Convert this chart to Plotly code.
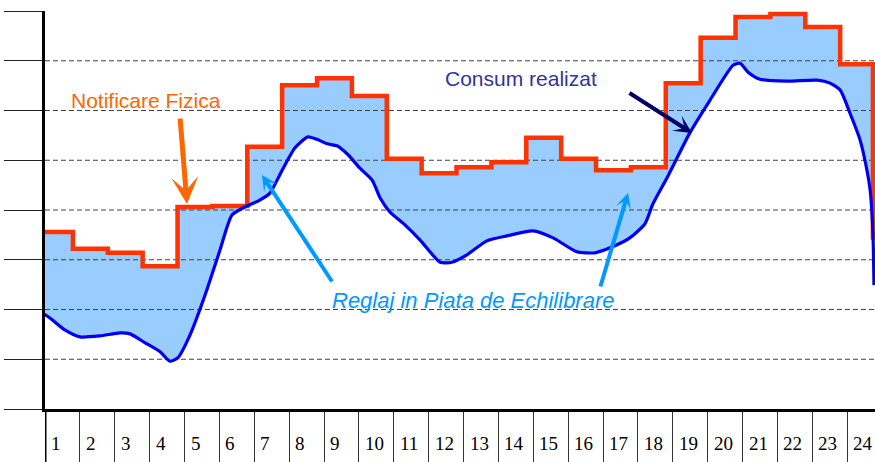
import plotly.graph_objects as go

# ---------------- data ----------------
hours = list(range(1, 25))
tick_labels = [str(h) for h in hours]

# Notificare Fizica (step line), one value per hour
notificare_fizica = [356, 322, 314, 287, 406, 408, 527, 651, 665, 629, 503, 474,
                     486, 496, 545, 503, 480, 486, 655, 746, 788, 794, 768, 693]
notificare_end = 340

# Consum realizat (smooth curve), sampled along the hour axis
consum_ora = [0.30, 0.64, 1.07, 1.50, 2.08, 2.65, 2.94, 3.37, 3.80, 4.08, 4.31, 4.66,
              5.09, 5.52, 5.86, 6.23, 6.66, 6.95, 7.30, 7.67, 8.04, 8.33, 8.59, 8.87,
              9.19, 9.53, 9.88, 10.11, 10.39, 10.82, 11.25, 11.83, 12.17, 12.60, 13.17,
              13.75, 14.49, 15.07, 15.75, 16.27, 16.70, 17.27, 17.70, 17.93, 18.36,
              18.99, 19.57, 20.23, 20.43, 20.66, 21.00, 21.78, 22.64, 23.01, 23.30,
              23.58, 23.87, 24.04, 24.16, 24.24, 24.27]
consum_val = [199, 183, 159, 145, 147, 153, 151, 133, 115, 96, 103, 149,
              229, 320, 390, 406, 420, 434, 480, 525, 547, 541, 533, 529,
              511, 484, 460, 424, 396, 370, 340, 295, 295, 310, 338,
              348, 358, 344, 316, 314, 324, 344, 372, 412, 468,
              555, 621, 691, 695, 677, 663, 659, 661, 655, 641,
              595, 541, 490, 440, 354, 249]

grid_levels = [100, 200, 300, 400, 500, 600, 700]
y_ticks = [0, 100, 200, 300, 400, 500, 600, 700, 800]
hour_edges = [h - 0.5 for h in hours] + [24.5]

# ---------------- style ----------------
STEP_SHIFT = -0.7
RED = "#FF3300"
BLUE = "#0000F0"
FILL = "#99CCFF"
ORANGE = "#FF6600"
NAVY = "#000066"
NAVY_TXT = "#333399"
LIGHT = "#0099FF"
SANS = "Liberation Sans, Arial, sans-serif"
SERIF = "Liberation Serif, Times New Roman, serif"

W, H = 875, 462
ML, MR, MT, MB = 45, 0, 11, 53
PW, PH = W - ML - MR, H - MT - MB


def px(xp, yp):
    return (xp - ML) / PW, (H - MB - yp) / PH


step_x = [h + STEP_SHIFT for h in hours] + [24.24]
step_y = notificare_fizica + [notificare_end]

fig = go.Figure()
# fill boundaries
fig.add_trace(go.Scatter(x=step_x, y=step_y, mode="lines", line=dict(shape="hv", width=0, color="rgba(0,0,0,0)"),
                         hoverinfo="skip", showlegend=False))
fig.add_trace(go.Scatter(x=consum_ora, y=consum_val, mode="lines",
                         line=dict(shape="spline", smoothing=0.6, width=0, color="rgba(0,0,0,0)"),
                         fill="tonexty", fillcolor=FILL, hoverinfo="skip", showlegend=False))
# dashed grid lines (above the fill)
gx, gy = [], []
for g in grid_levels:
    gx += [0.5, 24.5, None]
    gy += [g, g, None]
fig.add_trace(go.Scatter(x=gx, y=gy, mode="lines", line=dict(color="#404040", width=1, dash="5px,3px"),
                         hoverinfo="skip", showlegend=False))
# visible lines
fig.add_trace(go.Scatter(x=step_x, y=step_y, mode="lines", line=dict(shape="hv", width=4.5, color=RED),
                         name="Notificare Fizica", showlegend=False))
fig.add_trace(go.Scatter(x=consum_ora, y=consum_val, mode="lines",
                         line=dict(shape="spline", smoothing=0.6, width=3.2, color=BLUE),
                         name="Consum realizat", showlegend=False))

ann = []
# hour labels
for h, lab in zip(hours, tick_labels):
    ann.append(dict(x=h - 0.5, y=-(443 - (H - MB)) / PH, xref="x", yref="paper", text=lab,
                    showarrow=False, xanchor="left", yanchor="middle", xshift=4,
                    font=dict(family=SERIF, size=19, color="black")))

# texts
def label(cx, cy, text, size, color):
    x, y = px(cx, cy)
    return dict(x=x, y=y, xref="paper", yref="paper", text=text, showarrow=False,
                xanchor="center", yanchor="middle", font=dict(family=SANS, size=size, color=color))

ann.append(label(146, 101, "Notificare Fizica", 21, ORANGE))
ann.append(label(521, 78, "Consum realizat", 21, NAVY_TXT))
ann.append(label(473, 300, "<i>Reglaj in Piata de Echilibrare</i>", 22, LIGHT))

# arrows
def arrow(tip, tail, color, width, size):
    x, y = px(*tip)
    return dict(x=x, y=y, xref="paper", yref="paper", text="", showarrow=True,
                ax=tail[0] - tip[0], ay=tail[1] - tip[1], axref="pixel", ayref="pixel",
                arrowhead=3, arrowsize=size, arrowwidth=width, arrowcolor=color,
                standoff=0, startstandoff=0)

ann.append(arrow((187, 204), (180, 117), ORANGE, 5, 0.9))
ann.append(arrow((692, 133), (628, 92), NAVY, 4, 0.75))
ann.append(arrow((262, 175), (333, 283), LIGHT, 4, 0.65))
ann.append(arrow((628, 193), (600, 288), LIGHT, 4, 0.65))

fig.update_layout(
    width=W, height=H, margin=dict(l=ML, r=MR, t=MT, b=MB, pad=0),
    paper_bgcolor="white", plot_bgcolor="white",
    annotations=ann, showlegend=False,
    shapes=[dict(type="line", xref="x", yref="paper", x0=0.5, x1=0.5, y0=-MB / PH, y1=0,
                 line=dict(color="black", width=3))],
)
fig.update_xaxes(range=[0.5, 0.5 + PW / 34.875], showgrid=False, zeroline=False,
                 showline=True, linewidth=3, linecolor="black",
                 tickmode="array", tickvals=hour_edges, ticks="outside", ticklen=MB,
                 tickwidth=1, tickcolor="#333333", showticklabels=False)
fig.update_yaxes(range=[0, 800], showgrid=False, zeroline=False,
                 showline=True, linewidth=3, linecolor="black",
                 tickmode="array", tickvals=y_ticks, ticks="outside", ticklen=38,
                 tickwidth=1, tickcolor="#222222", showticklabels=False)

fig.write_html("out.html", config={"displayModeBar": False},
               post_script="document.body.style.margin='0px';document.body.style.padding='0px';")
